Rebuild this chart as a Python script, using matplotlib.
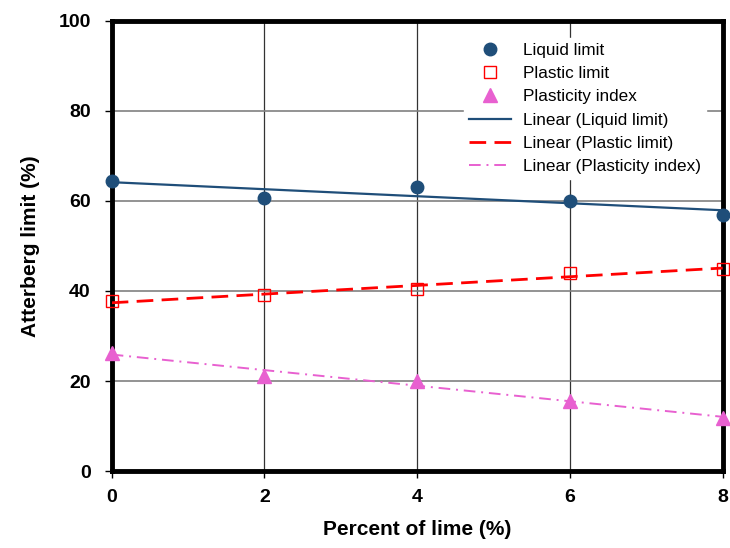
import numpy as np
import matplotlib.pyplot as plt

plt.rcParams['font.family'] = ['Liberation Sans', 'DejaVu Sans']

# Données
lime = [0, 2, 4, 6, 8]
liquid_limit = [64.4, 60.7, 63.2, 60.1, 56.9]
plastic_limit = [37.8, 39.0, 40.4, 44.1, 44.9]
plasticity_index = [26.3, 21.2, 19.9, 15.6, 11.8]

c_ll = '#1f4e79'
c_pl = '#ff0000'
c_pi = '#e860d0'

fig = plt.figure(figsize=(7.3, 5.48), dpi=100)
ax = fig.add_axes([0.153, 0.1405, 0.837, 0.8212])

# Points
ax.plot(lime, liquid_limit, 'o', color=c_ll, ms=9, clip_on=False, zorder=5, label='Liquid limit')
ax.plot(lime, plastic_limit, 's', mfc='none', mec=c_pl, ms=8, mew=1, clip_on=False, zorder=5, label='Plastic limit')
ax.plot(lime, plasticity_index, '^', color=c_pi, ms=10, clip_on=False, zorder=5, label='Plasticity index')

# Tendances linéaires
xs = np.array([0, 8])
for y, c, ls, lw, name in [(liquid_limit, c_ll, '-', 1.6, 'Liquid limit'),
                           (plastic_limit, c_pl, (0, (6, 3)), 2.0, 'Plastic limit'),
                           (plasticity_index, c_pi, (0, (6, 3, 1, 3)), 1.4, 'Plasticity index')]:
    a, b = np.polyfit(lime, y, 1)
    ax.plot(xs, a * xs + b, color=c, ls=ls, lw=lw, zorder=4, label='Linear (' + name + ')')

ax.set_xlim(0, 8)
ax.set_ylim(0, 100)
ax.set_xticks([0, 2, 4, 6, 8])
ax.set_yticks([0, 20, 40, 60, 80, 100])
ax.grid(axis='x', color='#333333', lw=0.9)
ax.grid(axis='y', color='#808080', lw=1.2)
for s in ax.spines.values():
    s.set_linewidth(3.5)
ax.tick_params(direction='out', length=5, width=1, labelsize=14)
ax.tick_params(axis='x', pad=8)
ax.tick_params(axis='y', pad=10)
for lab in ax.get_xticklabels() + ax.get_yticklabels():
    lab.set_fontweight('bold')

ax.set_xlabel('Percent of lime (%)', fontsize=15, fontweight='bold', labelpad=10)
ax.set_ylabel('Atterberg limit (%)', fontsize=15, fontweight='bold', labelpad=13)

leg = ax.legend(loc='upper right', bbox_to_anchor=(0.979, 0.97), frameon=True, fontsize=12.3,
                handlelength=2.5, handletextpad=0.7, labelspacing=0.48, borderaxespad=0.2,
                borderpad=0.3, fancybox=False)
leg.get_frame().set_edgecolor('white')
leg.get_frame().set_alpha(1)

fig.savefig('out.png', dpi=100)
